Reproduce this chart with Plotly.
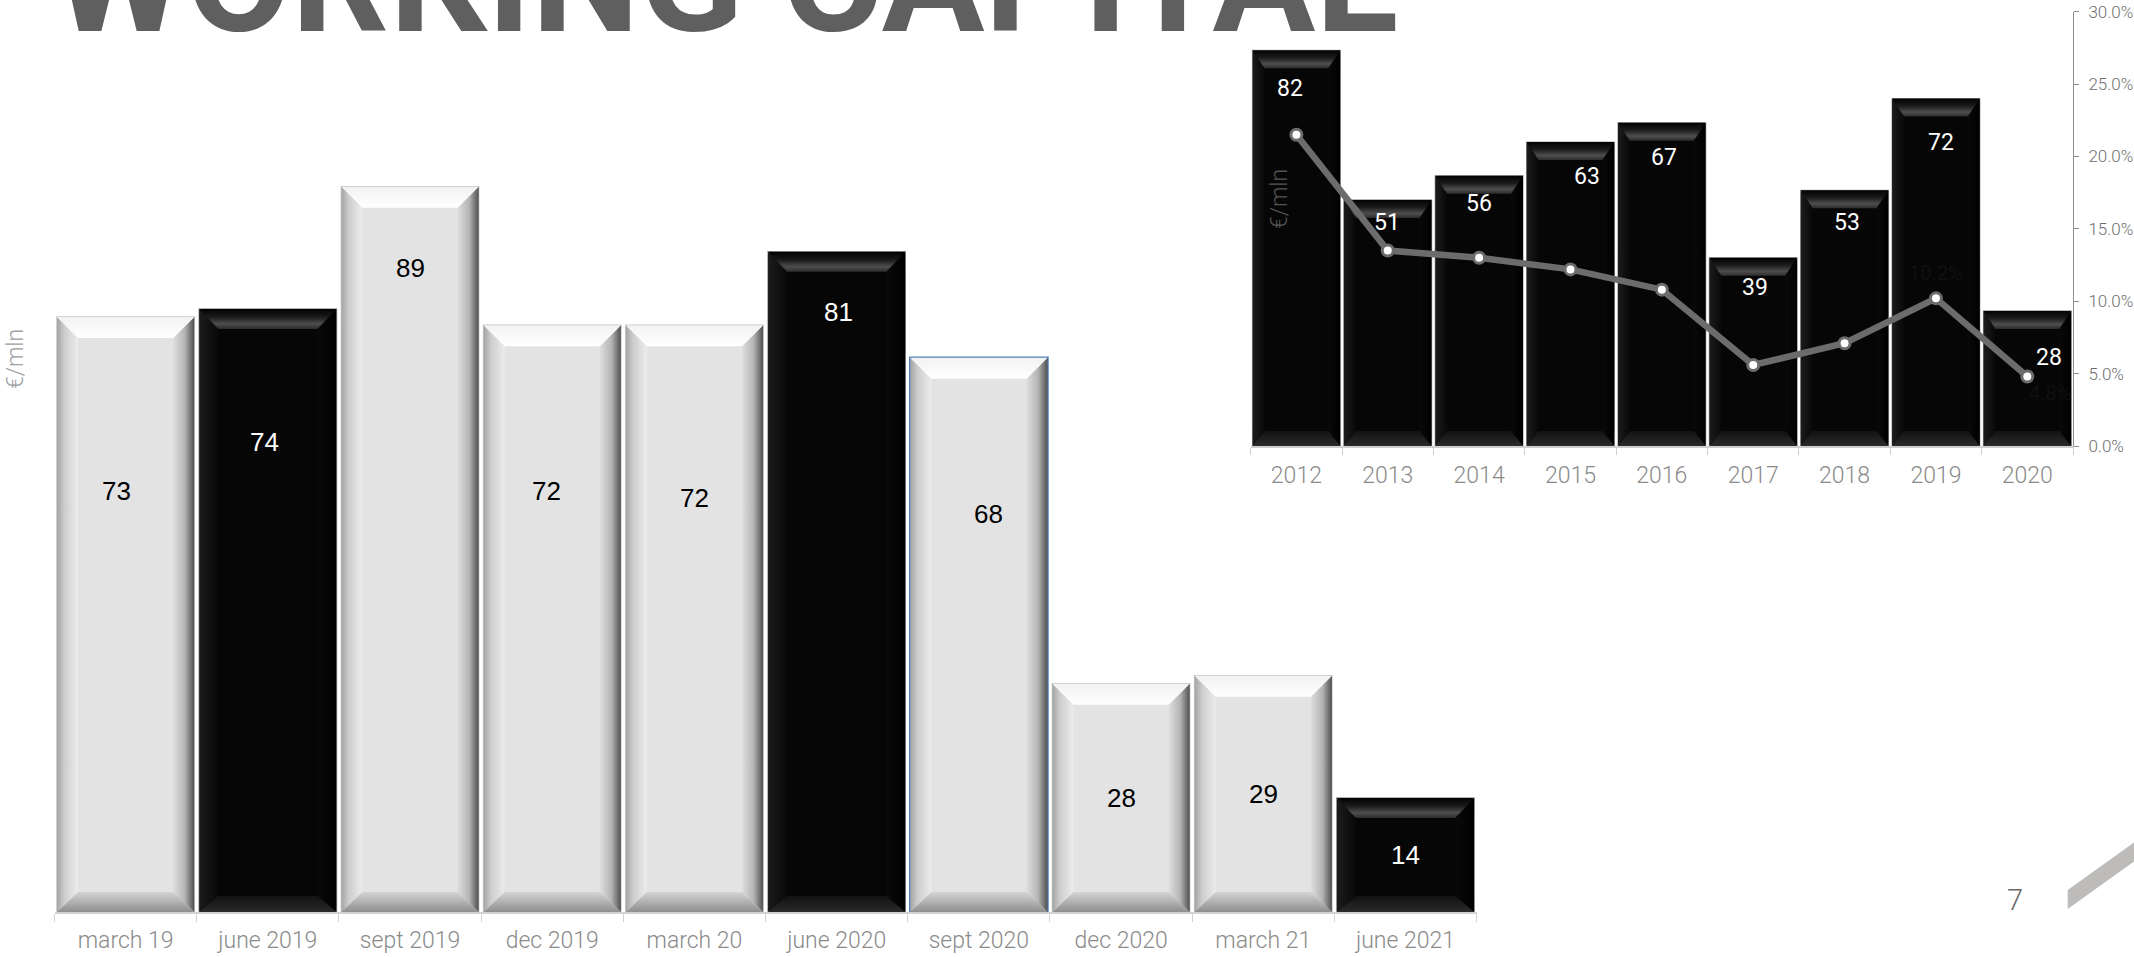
import plotly.graph_objects as go

# ---------------------------------------------------------------- data
periods = ["march 19", "june 2019", "sept 2019", "dec 2019", "march 20",
           "june 2020", "sept 2020", "dec 2020", "march 21", "june 2021"]
working_capital = [73, 74, 89, 72, 72, 81, 68, 28, 29, 14]
period_tone = ["light", "dark", "light", "light", "light",
               "dark", "light", "light", "light", "dark"]

years = ["2012", "2013", "2014", "2015", "2016", "2017", "2018", "2019", "2020"]
wc_yearly = [82, 51, 56, 63, 67, 39, 53, 72, 28]
wc_on_sales = [0.215, 0.135, 0.130, 0.122, 0.108, 0.056, 0.071, 0.102, 0.048]

# ---------------------------------------------------------------- layout (pixels)
W, H = 2134, 957
MAIN_X = (54.5, 1476.6)      # left / right of the quarterly plot area
MAIN_Y = (912.0, 97.0)       # baseline / top
MAIN_TOP = 100
INSET_X = (1250.7, 2073.0)
INSET_Y = (446.0, 11.7)
INSET_TOP = 90
RATIO_TOP = 0.30

# label placement inside the quarterly bars (fraction of bar height, x nudge in px)
main_label_frac = [0.708, 0.78, 0.888, 0.718, 0.706, 0.909, 0.719, 0.5, 0.5, 0.5]
main_label_dx = [-9, -3, 0, -6, 0, 2, 10, 0, 0, 0]
# label placement inside the yearly bars (px below bar top, x nudge in px)
inset_label_drop = [38, 23, 28, 35, 35, 30, 32, 44, 47]
inset_label_dx = [-6, -1, 0, 17, 2, 2, 2, 5, 22]

GREY_TXT = "#8a8a8a"


def px_x(p):
    return p / W


def px_y(p):
    return 1 - p / H


fig = go.Figure()


def add_bevel(xa, ya, xc, v, w, bx, by, bby, tone):
    """Overlay bevelled edges on one bar using gradient-filled polygons."""
    x0, x1 = xc - w / 2, xc + w / 2
    y0, y1 = 0.0, v
    if tone == "light":
        left = [[0, "#a4a4a4"], [0.35, "#cdcdcd"], [1, "#ececec"]]
        right = [[0, "#dedede"], [0.55, "#b4b4b4"], [1, "#505050"]]
        top = [[0, "#ffffff"], [1, "#f2f2f2"]]
        bottom = [[0, "#8e8e8e"], [1, "#d4d4d4"]]
    else:
        left = [[0, "#1c1c1c"], [1, "#080808"]]
        right = [[0, "#090909"], [1, "#000000"]]
        top = [[0, "#2c2c2c"], [0.25, "#4e4e4e"], [0.6, "#1a1a1a"], [1, "#020202"]]
        bottom = [[0, "#2a2a2a"], [1, "#121212"]]
    polys = [
        ([x0, x0 + bx, x0 + bx, x0], [y0, y0 + bby, y1 - by, y1],
         dict(type="horizontal", colorscale=left, start=x0, stop=x0 + bx)),
        ([x1, x1 - bx, x1 - bx, x1], [y0, y0 + bby, y1 - by, y1],
         dict(type="horizontal", colorscale=right, start=x1 - bx, stop=x1)),
        ([x0, x1, x1 - bx, x0 + bx], [y1, y1, y1 - by, y1 - by],
         dict(type="vertical", colorscale=top, start=y1 - by, stop=y1)),
        ([x0, x1, x1 - bx, x0 + bx], [y0, y0, y0 + bby, y0 + bby],
         dict(type="vertical", colorscale=bottom, start=y0, stop=y0 + bby)),
    ]
    for xs, ys, grad in polys:
        fig.add_trace(go.Scatter(
            x=xs + [xs[0]], y=ys + [ys[0]], xaxis=xa, yaxis=ya,
            mode="lines", fill="toself", fillgradient=grad,
            line=dict(width=0), hoverinfo="skip", showlegend=False))


# ---------------------------------------------------------------- quarterly bars
BAR_W = 0.965
idx = list(range(len(periods)))
fill = ["#e3e3e3" if t == "light" else "#060606" for t in period_tone]
edge = ["#c4c4c4" if t == "light" else "#9a9a9a" for t in period_tone]
edge_w = [1.5] * len(periods)
sel = periods.index("sept 2020")
edge[sel] = "#4f81bd"
edge_w[sel] = 2.5
fig.add_trace(go.Bar(
    x=idx, y=working_capital, width=BAR_W, xaxis="x", yaxis="y",
    marker=dict(color=fill, line=dict(color=edge, width=edge_w)),
    hoverinfo="skip", showlegend=False))

ux = (MAIN_X[1] - MAIN_X[0]) / len(periods)
uy = (MAIN_Y[0] - MAIN_Y[1]) / MAIN_TOP
for i, (v, t) in enumerate(zip(working_capital, period_tone)):
    bx = (21 if t == "light" else 19) / ux
    by = (21 if t == "light" else 20) / uy
    bby = (20 if t == "light" else 16) / uy
    add_bevel("x", "y", i, v, BAR_W, bx, by, bby, t)

# ---------------------------------------------------------------- yearly bars
iy = list(range(len(years)))
fig.add_trace(go.Bar(
    x=iy, y=wc_yearly, width=0.96, xaxis="x2", yaxis="y2",
    marker=dict(color="#060606", line=dict(color="#a0a0a0", width=1.2)),
    hoverinfo="skip", showlegend=False))
ux2 = (INSET_X[1] - INSET_X[0]) / len(years)
uy2 = (INSET_Y[0] - INSET_Y[1]) / INSET_TOP
for i, v in enumerate(wc_yearly):
    add_bevel("x2", "y2", i, v, 0.96, 12 / ux2, 18 / uy2, 15 / uy2, "dark")

fig.add_trace(go.Scatter(
    x=iy, y=wc_on_sales, xaxis="x2", yaxis="y3", mode="lines+markers",
    line=dict(color="#6c6c6e", width=6.5),
    marker=dict(size=11, color="white", line=dict(color="#6c6c6e", width=3)),
    hoverinfo="skip", showlegend=False))

# ---------------------------------------------------------------- text
ann = []
for i, v in enumerate(working_capital):
    ann.append(dict(
        x=i, y=v * main_label_frac[i], xref="x", yref="y", xshift=main_label_dx[i],
        xanchor="center", yanchor="middle", text=str(v), showarrow=False,
        font=dict(family="Liberation Sans, Arial", size=26,
                  color="#000000" if period_tone[i] == "light" else "#ffffff")))
for i, v in enumerate(wc_yearly):
    ann.append(dict(
        x=i, y=v, xref="x2", yref="y2", yshift=-inset_label_drop[i],
        xshift=inset_label_dx[i], xanchor="center", yanchor="middle",
        text=str(v), showarrow=False,
        font=dict(family="Roboto", size=23, color="#ffffff")))
ann.append(dict(
    x=7, y=wc_on_sales[7], xref="x2", yref="y3", yshift=25,
    xanchor="center", yanchor="middle",
    text=f"{wc_on_sales[7] * 100:.1f}%", showarrow=False,
    font=dict(family="Roboto", size=20, color="#101010")))
ann.append(dict(
    x=8, y=wc_on_sales[8], xref="x2", yref="y3", yshift=-16,
    xanchor="left", yanchor="middle",
    text=f"{wc_on_sales[8] * 100:.1f}%", showarrow=False,
    font=dict(family="Roboto", size=20, color="#101010")))

ann.append(dict(
    x=px_x(15), y=px_y(359), xref="paper", yref="paper", text="€/mln",
    xanchor="center", yanchor="middle", textangle=-90, showarrow=False,
    font=dict(family="Roboto", size=23, weight=300, color="#a0a0a0")))
ann.append(dict(
    x=px_x(1280), y=px_y(199), xref="paper", yref="paper", text="€/mln",
    xanchor="center", yanchor="middle", textangle=-90, showarrow=False,
    font=dict(family="Roboto", size=23, weight=300, color="#555555")))
ann.append(dict(
    x=px_x(50), y=px_y(34 + 36), xref="paper", yref="paper", xanchor="left",
    yanchor="bottom", text="WORKING CAPITAL", showarrow=False,
    font=dict(family="Roboto", size=153, weight=700, color="#5f5f5f")))
ann.append(dict(
    x=px_x(2015), y=px_y(899.5), xref="paper", yref="paper", text="7",
    xanchor="center", yanchor="middle", showarrow=False,
    font=dict(family="Roboto", size=29, weight=300, color="#6a6a6a")))

stripe = dict(
    type="path", xref="paper", yref="paper", layer="above",
    path=(f"M {px_x(2067.7)} {px_y(890)} L {px_x(2140)} {px_y(838.2)} "
          f"L {px_x(2140)} {px_y(857.2)} L {px_x(2067.7)} {px_y(909)} Z"),
    fillcolor="#bdbcba", line=dict(width=0))

tick_font = dict(family="Roboto", size=23, weight=300, color=GREY_TXT)

fig.update_layout(
    width=W, height=H, margin=dict(l=0, r=0, t=0, b=0, autoexpand=False),
    paper_bgcolor="white", plot_bgcolor="rgba(0,0,0,0)",
    barmode="overlay", showlegend=False,
    annotations=ann, shapes=[stripe],
    xaxis=dict(
        domain=[px_x(MAIN_X[0]), px_x(MAIN_X[1])], range=[-0.5, len(periods) - 0.5],
        tickmode="array", tickvals=idx, ticktext=periods, ticks="",
        ticklabelstandoff=7, tickfont=tick_font, automargin=False,
        showline=True, linecolor="#d2d2d2", linewidth=1.5, showgrid=False,
        zeroline=False, fixedrange=True,
        minor=dict(tickmode="array", tickvals=[i - 0.5 for i in range(len(periods) + 1)],
                   ticks="outside", ticklen=8, tickcolor="#d2d2d2", tickwidth=1,
                   showgrid=False)),
    yaxis=dict(
        domain=[px_y(MAIN_Y[0]), px_y(MAIN_Y[1])], range=[0, MAIN_TOP],
        visible=False, fixedrange=True, automargin=False),
    xaxis2=dict(
        domain=[px_x(INSET_X[0]), px_x(INSET_X[1])], range=[-0.5, len(years) - 0.5],
        anchor="y2", tickmode="array", tickvals=iy, ticktext=years, ticks="",
        ticklabelstandoff=8, tickfont=tick_font, automargin=False,
        showline=True, linecolor="#cfcfcf", linewidth=1.5, showgrid=False,
        zeroline=False, fixedrange=True,
        minor=dict(tickmode="array", tickvals=[i - 0.5 for i in range(len(years) + 1)],
                   ticks="outside", ticklen=7, tickcolor="#cfcfcf", tickwidth=1,
                   showgrid=False)),
    yaxis2=dict(
        domain=[px_y(INSET_Y[0]), px_y(INSET_Y[1])], range=[0, INSET_TOP],
        anchor="x2", visible=False, fixedrange=True, automargin=False),
    yaxis3=dict(
        overlaying="y2", anchor="x2", side="right", range=[0, RATIO_TOP],
        tickmode="linear", tick0=0, dtick=0.05, tickformat=".1%",
        ticks="outside", ticklen=5, tickcolor="#8c8c8c", ticklabelstandoff=6,
        showline=True, linecolor="#8c8c8c", linewidth=1, showgrid=False,
        zeroline=False, fixedrange=True, automargin=False,
        tickfont=dict(family="Roboto", size=17, weight=300, color="#6f6f6f")),
)

fig.write_html("out.html")
